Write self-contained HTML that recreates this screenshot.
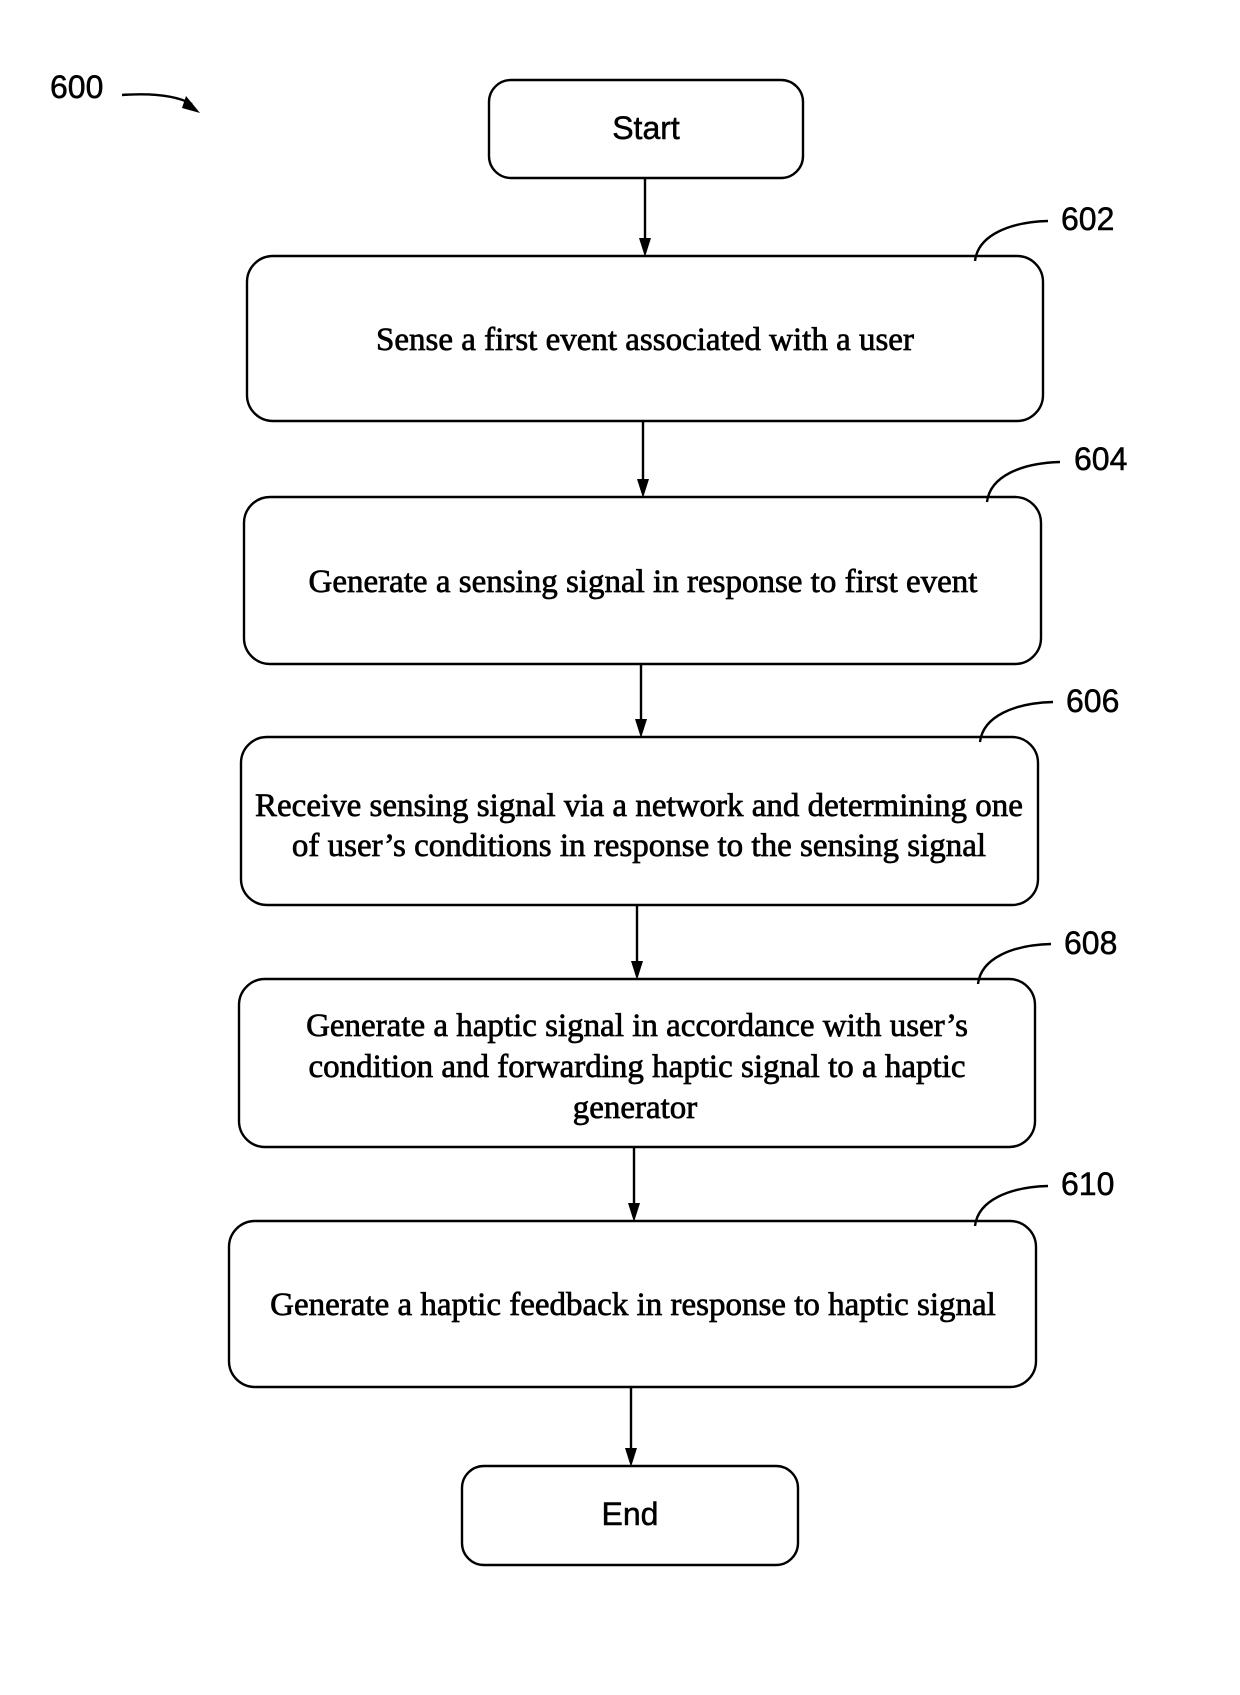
<!DOCTYPE html>
<html><head><style>
body{margin:0;background:#fff;}
</style></head><body>
<svg width="1240" height="1690" xmlns="http://www.w3.org/2000/svg">
<g fill="none" stroke="#000" stroke-width="2.4">
<rect x="489" y="80" width="314" height="98" rx="22"/>
<rect x="247" y="256" width="796" height="165" rx="26"/>
<rect x="244" y="497" width="797" height="167" rx="26"/>
<rect x="241" y="737" width="797" height="168" rx="26"/>
<rect x="239" y="979" width="796" height="168" rx="26"/>
<rect x="229" y="1221" width="807" height="166" rx="26"/>
<rect x="462" y="1466" width="336" height="99" rx="22"/>
<line x1="645" y1="178" x2="645" y2="245"/>
<line x1="643" y1="421" x2="643" y2="486"/>
<line x1="641" y1="664" x2="641" y2="726"/>
<line x1="637" y1="905" x2="637" y2="968"/>
<line x1="634" y1="1147" x2="634" y2="1210"/>
<line x1="631" y1="1387" x2="631" y2="1455"/>
<path d="M975,261 C978,235 1010,222 1048,221"/>
<path d="M987,502 C990,476 1022,463 1060,462"/>
<path d="M980,742 C983,716 1015,703 1053,702"/>
<path d="M978,984 C981,958 1013,945 1051,944"/>
<path d="M975,1226 C978,1200 1010,1187 1048,1186"/>
<path d="M122,95 C150,93 175,95 192,104"/>
</g>
<g fill="#000">
<path d="M639,238 L651,238 L645,257 Z"/>
<path d="M637,479 L649,479 L643,498 Z"/>
<path d="M635,719 L647,719 L641,738 Z"/>
<path d="M631,961 L643,961 L637,980 Z"/>
<path d="M628,1203 L640,1203 L634,1222 Z"/>
<path d="M625,1448 L637,1448 L631,1467 Z"/>
<path d="M186,96 L200,113 L182,108 Z"/>
</g>
<g font-family="Liberation Sans, sans-serif" font-size="32" fill="#000" stroke="#000" stroke-width="0.5">
<text x="50" y="98">600</text>
<text x="1061" y="230">602</text>
<text x="1074" y="470">604</text>
<text x="1066" y="712">606</text>
<text x="1064" y="954">608</text>
<text x="1061" y="1195">610</text>
<text x="646" y="139" text-anchor="middle">Start</text>
<text x="630" y="1525" text-anchor="middle">End</text>
</g>
<g font-family="Liberation Serif, serif" font-size="33" fill="#000" stroke="#000" stroke-width="0.7" text-anchor="middle">
<text x="645" y="350">Sense a first event associated with a user</text>
<text x="643" y="592">Generate a sensing signal in response to first event</text>
<text x="639" y="816">Receive sensing signal via a network and determining one</text>
<text x="639" y="856">of user’s conditions in response to the sensing signal</text>
<text x="637" y="1036">Generate a haptic signal in accordance with user’s</text>
<text x="637" y="1077">condition and forwarding haptic signal to a haptic</text>
<text x="635" y="1118">generator</text>
<text x="633" y="1315">Generate a haptic feedback in response to haptic signal</text>
</g>
</svg>
</body></html>
